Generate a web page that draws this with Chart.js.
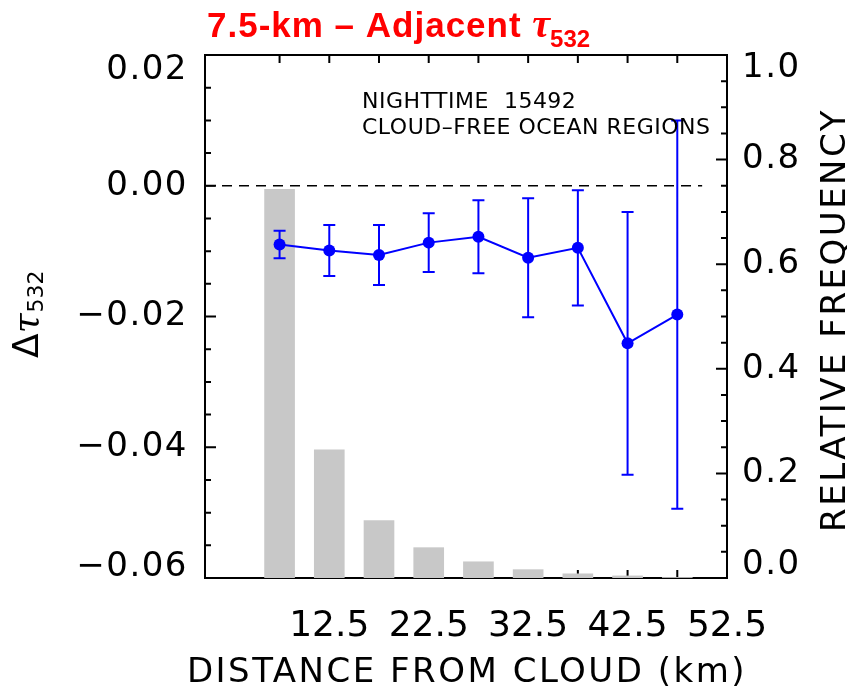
<!DOCTYPE html>
<html>
<head>
<meta charset="utf-8">
<script src="https://cdn.jsdelivr.net/npm/chart.js@4/dist/chart.umd.min.js"></script>
<style>
  html, body { margin: 0; padding: 0; background: #fff; }
</style>
</head>
<body>
<canvas id="chart" width="847" height="691"></canvas>
<script>
// Distance bins (km) and values
const distances = [7.5, 12.5, 17.5, 22.5, 27.5, 32.5, 37.5, 42.5, 47.5];
const relFrequency = [0.743, 0.245, 0.110, 0.058, 0.031, 0.016, 0.008, 0.004, 0.001];
const deltaTau = [-0.0090, -0.0099, -0.0106, -0.0087, -0.0078, -0.0110, -0.0095, -0.0241, -0.0197];
const deltaTauErr = [0.0021, 0.0039, 0.0046, 0.0045, 0.0056, 0.0091, 0.0088, 0.0201, 0.0297];

// Axis ticks
const xTickLabels = [12.5, 22.5, 32.5, 42.5, 52.5];
const xTickMarks = [7.5, 12.5, 17.5, 22.5, 27.5, 32.5, 37.5, 42.5, 47.5];
const leftTicks = [0.02, 0.00, -0.02, -0.04, -0.06];
const rightTicks = [1.0, 0.8, 0.6, 0.4, 0.2, 0.0];
const zeroLineX = [0, 50];

const axisFont = '34px "DejaVu Sans"';

function fmtLeft(v) {
  const s = Math.abs(v).toFixed(2);
  return v < -1e-9 ? '\u2212' + s : s;
}

// IDL-style frame with inward ticks, drawn under the bars
const idlFrame = {
  id: 'idlFrame',
  beforeDatasetsDraw(chart) {
    const { ctx, chartArea: a, scales } = chart;
    const x = scales.x, yL = scales.yL, yR = scales.yR;
    ctx.save();
    ctx.strokeStyle = '#000';
    ctx.lineWidth = 2;
    ctx.strokeRect(a.left, a.top, a.right - a.left, a.bottom - a.top);
    ctx.beginPath();
    // left axis: minor every 0.005, major every 0.02
    for (let i = 0; i <= 16; i++) {
      const py = yL.getPixelForValue(-0.06 + i * 0.005);
      const len = i % 4 === 0 ? 11 : 6;
      ctx.moveTo(a.left, py);
      ctx.lineTo(a.left + len, py);
    }
    // right axis: minor every 0.05, major every 0.2
    for (let i = 0; i <= 20; i++) {
      const py = yR.getPixelForValue(i * 0.05);
      const len = i % 4 === 0 ? 11 : 6;
      ctx.moveTo(a.right, py);
      ctx.lineTo(a.right - len, py);
    }
    // x ticks top and bottom
    xTickMarks.forEach(v => {
      const px = x.getPixelForValue(v);
      ctx.moveTo(px, a.top);
      ctx.lineTo(px, a.top + 8);
      ctx.moveTo(px, a.bottom);
      ctx.lineTo(px, a.bottom - 8);
    });
    ctx.stroke();
    ctx.restore();
  },
  afterDatasetsDraw(chart) {
    // error bars on the delta tau series
    const { ctx, scales } = chart;
    const x = scales.x, yL = scales.yL;
    ctx.save();
    ctx.strokeStyle = '#0000ff';
    ctx.lineWidth = 2;
    ctx.beginPath();
    distances.forEach((d, i) => {
      const px = x.getPixelForValue(d);
      const y1 = yL.getPixelForValue(deltaTau[i] + deltaTauErr[i]);
      const y2 = yL.getPixelForValue(deltaTau[i] - deltaTauErr[i]);
      ctx.moveTo(px, y1); ctx.lineTo(px, y2);
      ctx.moveTo(px - 6, y1); ctx.lineTo(px + 6, y1);
      ctx.moveTo(px - 6, y2); ctx.lineTo(px + 6, y2);
    });
    ctx.stroke();
    ctx.restore();
  },
  afterDraw(chart) {
    const { ctx, chartArea: a, scales } = chart;
    const yL = scales.yL, yR = scales.yR;
    ctx.save();
    ctx.fillStyle = '#000';
    ctx.font = axisFont;
    ctx.letterSpacing = '1.5px';

    // left tick labels, kept inside the frame like IDL does
    ctx.textAlign = 'right';
    ctx.textBaseline = 'middle';
    leftTicks.forEach(v => {
      const py = Math.min(Math.max(yL.getPixelForValue(v), a.top + 15), a.bottom - 11);
      ctx.fillText(fmtLeft(v), 188, py);
    });
    // right tick labels
    ctx.textAlign = 'left';
    rightTicks.forEach(v => {
      const py = Math.min(Math.max(yR.getPixelForValue(v), a.top + 13), a.bottom - 13);
      ctx.fillText(v.toFixed(1), 742, py);
    });

    // x axis title
    ctx.letterSpacing = '2.5px';
    ctx.textAlign = 'center';
    ctx.textBaseline = 'alphabetic';
    ctx.fillText('DISTANCE FROM CLOUD (km)', 467, 682);

    // right axis title
    ctx.save();
    ctx.translate(845, 320);
    ctx.rotate(-Math.PI / 2);
    ctx.fillText('RELATIVE FREQUENCY', 0, 0);
    ctx.restore();

    // left axis title: delta tau_532
    ctx.letterSpacing = '0px';
    ctx.save();
    ctx.translate(38, 358);
    ctx.rotate(-Math.PI / 2);
    ctx.textAlign = 'left';
    ctx.font = '36px "DejaVu Sans"';
    ctx.fillText('\u0394', 0, 0);
    let off = ctx.measureText('\u0394').width;
    ctx.font = 'italic 36px "DejaVu Serif"';
    ctx.fillText('\u03c4', off, 0);
    off += ctx.measureText('\u03c4').width + 1;
    ctx.font = '22px "DejaVu Sans"';
    ctx.fillText('532', off, 5);
    ctx.restore();

    // annotation
    ctx.font = '22px "DejaVu Sans"';
    ctx.letterSpacing = '0.5px';
    ctx.textAlign = 'left';
    ctx.fillText('NIGHTTIME  15492', 362, 108);
    ctx.fillText('CLOUD\u2013FREE OCEAN REGIONS', 362, 134);

    // title
    ctx.fillStyle = '#ff0000';
    ctx.font = 'bold 35px "Liberation Sans"';
    ctx.letterSpacing = '1px';
    const main = '7.5-km \u2013 Adjacent ';
    ctx.fillText(main, 207, 37);
    let tx = 207 + ctx.measureText(main).width;
    ctx.letterSpacing = '0px';
    ctx.font = 'italic bold 40px "Liberation Serif"';
    ctx.fillText('\u03c4', tx, 37);
    tx += ctx.measureText('\u03c4').width;
    ctx.font = 'bold 24px "Liberation Sans"';
    ctx.fillText('532', tx, 47);
    ctx.restore();
  }
};

const ctx = document.getElementById('chart');

new Chart(ctx, {
  data: {
    datasets: [
      {
        type: 'bar',
        label: 'Relative frequency',
        data: distances.map((d, i) => ({ x: d, y: relFrequency[i] })),
        xAxisID: 'x',
        yAxisID: 'yR',
        backgroundColor: '#c8c8c8',
        borderWidth: 0,
        barThickness: 30,
        order: 3
      },
      {
        type: 'line',
        label: 'zero',
        data: zeroLineX.map(d => ({ x: d, y: 0 })),
        xAxisID: 'x',
        yAxisID: 'yL',
        borderColor: '#000',
        borderWidth: 1.5,
        borderDash: [10, 7],
        pointRadius: 0,
        order: 2
      },
      {
        type: 'line',
        label: 'Delta tau 532',
        data: distances.map((d, i) => ({ x: d, y: deltaTau[i] })),
        xAxisID: 'x',
        yAxisID: 'yL',
        borderColor: '#0000ff',
        borderWidth: 2,
        pointRadius: 6,
        pointBackgroundColor: '#0000ff',
        pointBorderWidth: 0,
        tension: 0,
        order: 1
      }
    ]
  },
  options: {
    responsive: false,
    animation: false,
    devicePixelRatio: 1,
    layout: { padding: { top: 55, left: 0, right: 0, bottom: 0 } },
    plugins: {
      legend: { display: false },
      tooltip: { enabled: false },
      title: { display: false }
    },
    scales: {
      x: {
        type: 'linear',
        position: 'bottom',
        offset: false,
        min: 0,
        max: 52.5,
        grid: { display: false, drawTicks: false, offset: false },
        border: { display: false },
        afterBuildTicks: scale => {
          scale.ticks = xTickLabels.map(v => ({ value: v }));
        },
        ticks: {
          color: '#000',
          font: { family: 'DejaVu Sans', size: 36 },
          padding: 27,
          maxRotation: 0,
          autoSkip: false,
          callback: v => v.toFixed(1)
        },
        afterFit: scale => { scale.height = 113; }
      },
      yL: {
        type: 'linear',
        position: 'left',
        min: -0.06,
        max: 0.02,
        grid: { display: false, drawTicks: false },
        border: { display: false },
        ticks: { display: false },
        afterFit: scale => { scale.width = 205; }
      },
      yR: {
        type: 'linear',
        position: 'right',
        min: 0,
        max: 1,
        grid: { display: false, drawTicks: false },
        border: { display: false },
        ticks: { display: false },
        afterFit: scale => { scale.width = 120; }
      }
    }
  },
  plugins: [idlFrame]
});
</script>
</body>
</html>
